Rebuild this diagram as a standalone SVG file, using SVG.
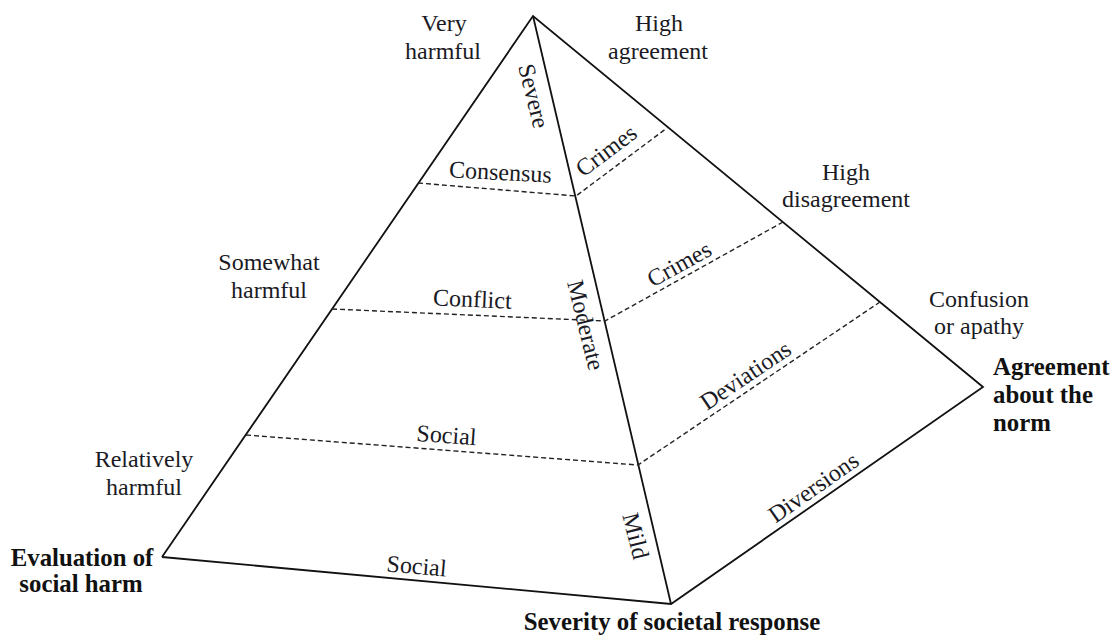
<svg xmlns="http://www.w3.org/2000/svg" width="1113" height="641" viewBox="0 0 1113 641">
<style>
.edge{stroke:#111;stroke-width:1.8;fill:none;stroke-linejoin:miter}
.dash{stroke:#222;stroke-width:1.4;fill:none;stroke-dasharray:5 3}
.t{font-family:"Liberation Serif","DejaVu Serif",serif;font-size:24px;fill:#1a1a24}
.m{text-anchor:middle}
.b{font-weight:bold;fill:#111;font-size:24.8px}
</style>
<rect width="1113" height="641" fill="#fff"/>
<g id="pyramid">
<g id="edges">
<polyline class="edge" points="162,557 533,16 983,387 671,604 162,557"/>
<line class="edge" x1="533" y1="16" x2="671" y2="604"/>
</g>
<g id="levels">
<polyline class="dash" points="418,183 576,196 667,128"/>
<polyline class="dash" points="332,309 605,321 783,222"/>
<polyline class="dash" points="246,435 638,465 880,302"/>
</g>
</g>
<g id="axis-harm">
<text class="t m" x="444" y="31">Very</text>
<text class="t m" x="443" y="59">harmful</text>
<text class="t m" x="269" y="270">Somewhat</text>
<text class="t m" x="269" y="298">harmful</text>
<text class="t m" x="144" y="467">Relatively</text>
<text class="t m" x="144" y="495">harmful</text>
<text class="t m b" x="82" y="566">Evaluation of</text>
<text class="t m b" x="81" y="592">social harm</text>
</g>
<g id="axis-agreement">
<text class="t m" x="659" y="31">High</text>
<text class="t m" x="658" y="59">agreement</text>
<text class="t m" x="846" y="180">High</text>
<text class="t m" x="846" y="207">disagreement</text>
<text class="t m" x="979" y="307">Confusion</text>
<text class="t m" x="979" y="334">or apathy</text>
<text class="t b" x="993" y="375">Agreement</text>
<text class="t b" x="993" y="403">about the</text>
<text class="t b" x="993" y="431">norm</text>
</g>
<g id="axis-response">
<text class="t m" transform="translate(526,98) rotate(76)">Severe</text>
<text class="t m" transform="translate(578,327) rotate(76)">Moderate</text>
<text class="t m" transform="translate(628,538) rotate(76)">Mild</text>
<text class="t m b" x="672" y="630">Severity of societal response</text>
</g>
<g id="level-labels">
<text class="t m" transform="translate(500,180) rotate(3)">Consensus</text>
<text class="t m" transform="translate(472,307) rotate(2.5)">Conflict</text>
<text class="t m" transform="translate(446,443) rotate(4)">Social</text>
<text class="t m" transform="translate(416,574) rotate(5)">Social</text>
<text class="t m" transform="translate(611,157) rotate(-37)">Crimes</text>
<text class="t m" transform="translate(683,271) rotate(-29)">Crimes</text>
<text class="t m" transform="translate(750,382) rotate(-34)">Deviations</text>
<text class="t m" transform="translate(818,494) rotate(-35)">Diversions</text>
</g>
</svg>
